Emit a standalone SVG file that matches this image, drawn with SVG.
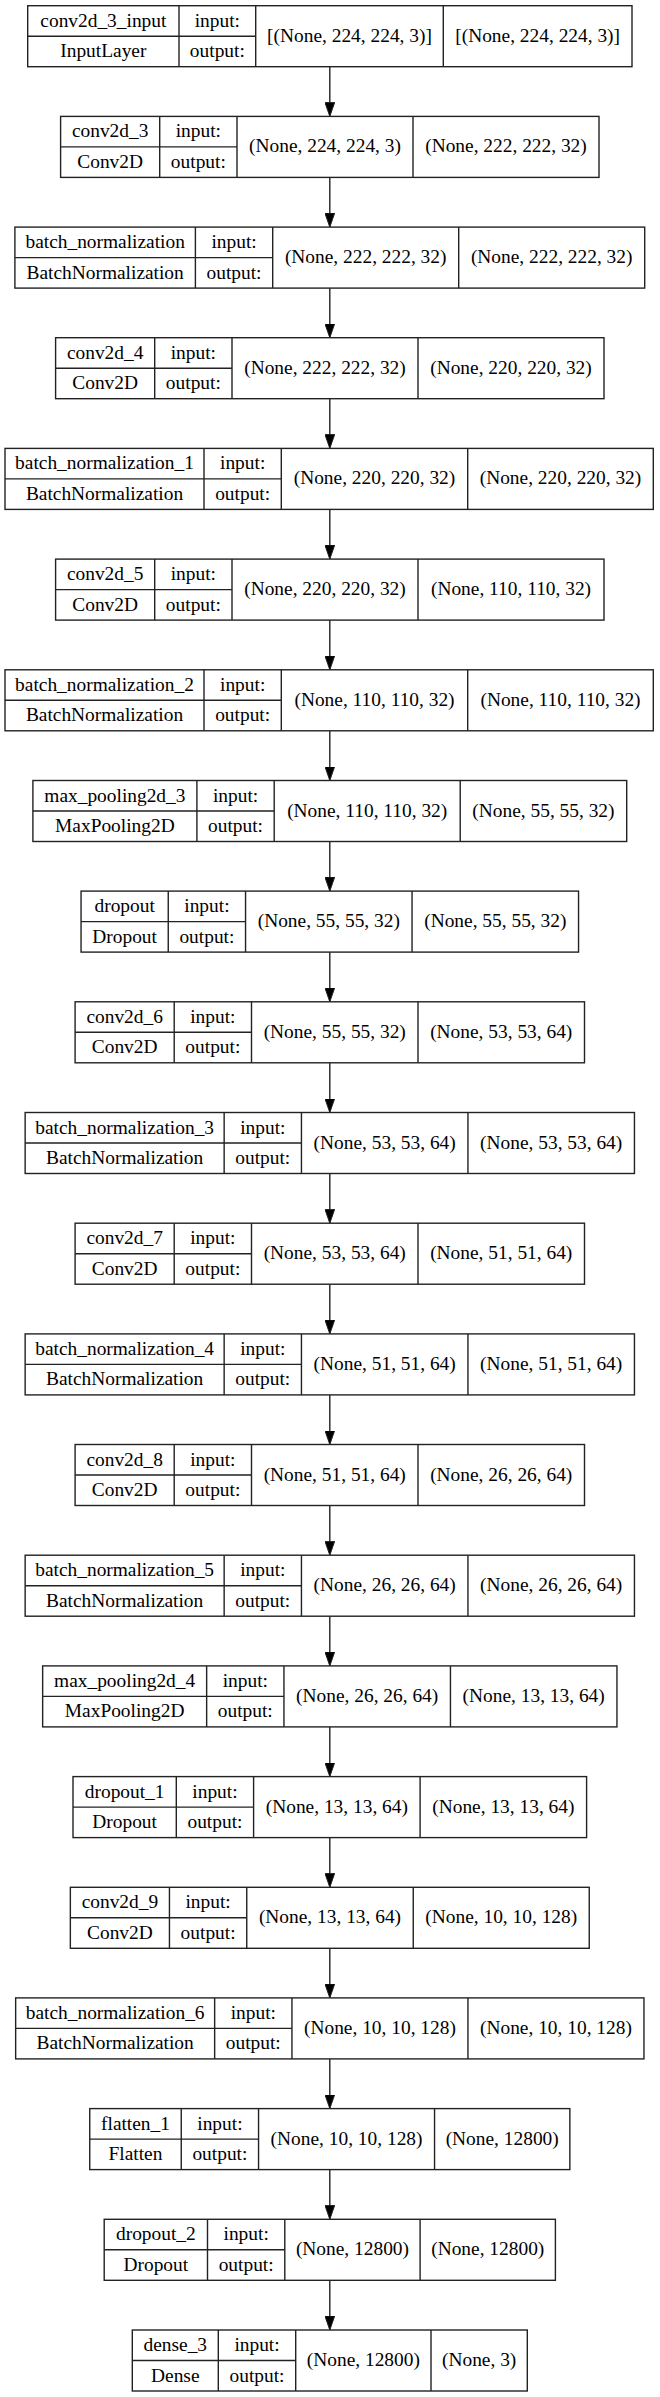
<svg xmlns="http://www.w3.org/2000/svg" width="660" height="2397" viewBox="0 0 660 2397">
<defs>
<style>
.b{fill:#fff;stroke:#222;stroke-width:1.4}
.l{fill:none;stroke:#222;stroke-width:1.4}
.e{fill:none;stroke:#222;stroke-width:1.4}
text{font-family:"Liberation Serif","Times New Roman",serif;font-size:19.4px;text-anchor:middle;fill:#000}
</style>
<marker id="ah" markerUnits="userSpaceOnUse" markerWidth="14" markerHeight="10" refX="14" refY="5" orient="auto">
<path d="M0,0.1 L14,5 L0,9.9 z" fill="#000" stroke="#222" stroke-width="1"/>
</marker>
</defs>
<rect width="660" height="2397" fill="#fff"/>
<g id="edges">
<line class="e" x1="329.8" y1="66.7" x2="329.8" y2="116.4" marker-end="url(#ah)"/>
<line class="e" x1="329.8" y1="177.4" x2="329.8" y2="227.1" marker-end="url(#ah)"/>
<line class="e" x1="329.8" y1="288.1" x2="329.8" y2="337.7" marker-end="url(#ah)"/>
<line class="e" x1="329.8" y1="398.7" x2="329.8" y2="448.4" marker-end="url(#ah)"/>
<line class="e" x1="329.8" y1="509.4" x2="329.8" y2="559.1" marker-end="url(#ah)"/>
<line class="e" x1="329.8" y1="620.1" x2="329.8" y2="669.8" marker-end="url(#ah)"/>
<line class="e" x1="329.8" y1="730.8" x2="329.8" y2="780.5" marker-end="url(#ah)"/>
<line class="e" x1="329.8" y1="841.5" x2="329.8" y2="891.1" marker-end="url(#ah)"/>
<line class="e" x1="329.8" y1="952.1" x2="329.8" y2="1001.8" marker-end="url(#ah)"/>
<line class="e" x1="329.8" y1="1062.8" x2="329.8" y2="1112.5" marker-end="url(#ah)"/>
<line class="e" x1="329.8" y1="1173.5" x2="329.8" y2="1223.2" marker-end="url(#ah)"/>
<line class="e" x1="329.8" y1="1284.2" x2="329.8" y2="1333.9" marker-end="url(#ah)"/>
<line class="e" x1="329.8" y1="1394.9" x2="329.8" y2="1444.5" marker-end="url(#ah)"/>
<line class="e" x1="329.8" y1="1505.5" x2="329.8" y2="1555.2" marker-end="url(#ah)"/>
<line class="e" x1="329.8" y1="1616.2" x2="329.8" y2="1665.9" marker-end="url(#ah)"/>
<line class="e" x1="329.8" y1="1726.9" x2="329.8" y2="1776.6" marker-end="url(#ah)"/>
<line class="e" x1="329.8" y1="1837.6" x2="329.8" y2="1887.3" marker-end="url(#ah)"/>
<line class="e" x1="329.8" y1="1948.3" x2="329.8" y2="1997.9" marker-end="url(#ah)"/>
<line class="e" x1="329.8" y1="2058.9" x2="329.8" y2="2108.6" marker-end="url(#ah)"/>
<line class="e" x1="329.8" y1="2169.6" x2="329.8" y2="2219.3" marker-end="url(#ah)"/>
<line class="e" x1="329.8" y1="2280.3" x2="329.8" y2="2330" marker-end="url(#ah)"/>
</g>

<g id="conv2d_3_input" transform="translate(0,5.7)">
<rect class="b" x="27.7" y="0" width="604.3" height="61"/>
<path class="l" d="M27.7,30.5H255.7M179,0V61M255.7,0V61M443.3,0V61"/>
<text x="103.35" y="21">conv2d_3_input</text><text x="103.35" y="51.5">InputLayer</text>
<text x="217.35" y="21">input:</text><text x="217.35" y="51.5">output:</text>
<text x="349.5" y="36">[(None, 224, 224, 3)]</text><text x="537.65" y="36">[(None, 224, 224, 3)]</text>
</g>

<g id="conv2d_3" transform="translate(0,116.4)">
<rect class="b" x="60.6" y="0" width="538.4" height="61"/>
<path class="l" d="M60.6,30.5H237M159.7,0V61M237,0V61M413,0V61"/>
<text x="110.15" y="21">conv2d_3</text><text x="110.15" y="51.5">Conv2D</text>
<text x="198.35" y="21">input:</text><text x="198.35" y="51.5">output:</text>
<text x="325" y="36">(None, 224, 224, 3)</text><text x="506" y="36">(None, 222, 222, 32)</text>
</g>

<g id="batch_normalization" transform="translate(0,227.1)">
<rect class="b" x="14.9" y="0" width="629.8" height="61"/>
<path class="l" d="M14.9,30.5H272.7M195.4,0V61M272.7,0V61M458.7,0V61"/>
<text x="105.15" y="21">batch_normalization</text><text x="105.15" y="51.5">BatchNormalization</text>
<text x="234.05" y="21">input:</text><text x="234.05" y="51.5">output:</text>
<text x="365.7" y="36">(None, 222, 222, 32)</text><text x="551.7" y="36">(None, 222, 222, 32)</text>
</g>

<g id="conv2d_4" transform="translate(0,337.7)">
<rect class="b" x="55.6" y="0" width="548.4" height="61"/>
<path class="l" d="M55.6,30.5H232M154.7,0V61M232,0V61M418,0V61"/>
<text x="105.15" y="21">conv2d_4</text><text x="105.15" y="51.5">Conv2D</text>
<text x="193.35" y="21">input:</text><text x="193.35" y="51.5">output:</text>
<text x="325" y="36">(None, 222, 222, 32)</text><text x="511" y="36">(None, 220, 220, 32)</text>
</g>

<g id="batch_normalization_1" transform="translate(0,448.4)">
<rect class="b" x="5" y="0" width="648.3" height="61"/>
<path class="l" d="M5,30.5H281.3M204,0V61M281.3,0V61M467.7,0V61"/>
<text x="104.5" y="21">batch_normalization_1</text><text x="104.5" y="51.5">BatchNormalization</text>
<text x="242.65" y="21">input:</text><text x="242.65" y="51.5">output:</text>
<text x="374.5" y="36">(None, 220, 220, 32)</text><text x="560.5" y="36">(None, 220, 220, 32)</text>
</g>

<g id="conv2d_5" transform="translate(0,559.1)">
<rect class="b" x="55.6" y="0" width="548.4" height="61"/>
<path class="l" d="M55.6,30.5H232M154.7,0V61M232,0V61M418,0V61"/>
<text x="105.15" y="21">conv2d_5</text><text x="105.15" y="51.5">Conv2D</text>
<text x="193.35" y="21">input:</text><text x="193.35" y="51.5">output:</text>
<text x="325" y="36">(None, 220, 220, 32)</text><text x="511" y="36">(None, 110, 110, 32)</text>
</g>

<g id="batch_normalization_2" transform="translate(0,669.8)">
<rect class="b" x="5" y="0" width="648.3" height="61"/>
<path class="l" d="M5,30.5H281.3M204,0V61M281.3,0V61M467.7,0V61"/>
<text x="104.5" y="21">batch_normalization_2</text><text x="104.5" y="51.5">BatchNormalization</text>
<text x="242.65" y="21">input:</text><text x="242.65" y="51.5">output:</text>
<text x="374.5" y="36">(None, 110, 110, 32)</text><text x="560.5" y="36">(None, 110, 110, 32)</text>
</g>

<g id="max_pooling2d_3" transform="translate(0,780.5)">
<rect class="b" x="32.9" y="0" width="593.8" height="61"/>
<path class="l" d="M32.9,30.5H274.2M196.9,0V61M274.2,0V61M460.2,0V61"/>
<text x="114.9" y="21">max_pooling2d_3</text><text x="114.9" y="51.5">MaxPooling2D</text>
<text x="235.55" y="21">input:</text><text x="235.55" y="51.5">output:</text>
<text x="367.2" y="36">(None, 110, 110, 32)</text><text x="543.45" y="36">(None, 55, 55, 32)</text>
</g>

<g id="dropout" transform="translate(0,891.1)">
<rect class="b" x="81.05" y="0" width="497.5" height="61"/>
<path class="l" d="M81.05,30.5H245.55M168.25,0V61M245.55,0V61M412.05,0V61"/>
<text x="124.65" y="21">dropout</text><text x="124.65" y="51.5">Dropout</text>
<text x="206.9" y="21">input:</text><text x="206.9" y="51.5">output:</text>
<text x="328.8" y="36">(None, 55, 55, 32)</text><text x="495.3" y="36">(None, 55, 55, 32)</text>
</g>

<g id="conv2d_6" transform="translate(0,1001.8)">
<rect class="b" x="75.1" y="0" width="509.4" height="61"/>
<path class="l" d="M75.1,30.5H251.5M174.2,0V61M251.5,0V61M418,0V61"/>
<text x="124.65" y="21">conv2d_6</text><text x="124.65" y="51.5">Conv2D</text>
<text x="212.85" y="21">input:</text><text x="212.85" y="51.5">output:</text>
<text x="334.75" y="36">(None, 55, 55, 32)</text><text x="501.25" y="36">(None, 53, 53, 64)</text>
</g>

<g id="batch_normalization_3" transform="translate(0,1112.5)">
<rect class="b" x="25.15" y="0" width="609.3" height="61"/>
<path class="l" d="M25.15,30.5H301.45M224.15,0V61M301.45,0V61M467.95,0V61"/>
<text x="124.65" y="21">batch_normalization_3</text><text x="124.65" y="51.5">BatchNormalization</text>
<text x="262.8" y="21">input:</text><text x="262.8" y="51.5">output:</text>
<text x="384.7" y="36">(None, 53, 53, 64)</text><text x="551.2" y="36">(None, 53, 53, 64)</text>
</g>

<g id="conv2d_7" transform="translate(0,1223.2)">
<rect class="b" x="75.1" y="0" width="509.4" height="61"/>
<path class="l" d="M75.1,30.5H251.5M174.2,0V61M251.5,0V61M418,0V61"/>
<text x="124.65" y="21">conv2d_7</text><text x="124.65" y="51.5">Conv2D</text>
<text x="212.85" y="21">input:</text><text x="212.85" y="51.5">output:</text>
<text x="334.75" y="36">(None, 53, 53, 64)</text><text x="501.25" y="36">(None, 51, 51, 64)</text>
</g>

<g id="batch_normalization_4" transform="translate(0,1333.9)">
<rect class="b" x="25.15" y="0" width="609.3" height="61"/>
<path class="l" d="M25.15,30.5H301.45M224.15,0V61M301.45,0V61M467.95,0V61"/>
<text x="124.65" y="21">batch_normalization_4</text><text x="124.65" y="51.5">BatchNormalization</text>
<text x="262.8" y="21">input:</text><text x="262.8" y="51.5">output:</text>
<text x="384.7" y="36">(None, 51, 51, 64)</text><text x="551.2" y="36">(None, 51, 51, 64)</text>
</g>

<g id="conv2d_8" transform="translate(0,1444.5)">
<rect class="b" x="75.1" y="0" width="509.4" height="61"/>
<path class="l" d="M75.1,30.5H251.5M174.2,0V61M251.5,0V61M418,0V61"/>
<text x="124.65" y="21">conv2d_8</text><text x="124.65" y="51.5">Conv2D</text>
<text x="212.85" y="21">input:</text><text x="212.85" y="51.5">output:</text>
<text x="334.75" y="36">(None, 51, 51, 64)</text><text x="501.25" y="36">(None, 26, 26, 64)</text>
</g>

<g id="batch_normalization_5" transform="translate(0,1555.2)">
<rect class="b" x="25.15" y="0" width="609.3" height="61"/>
<path class="l" d="M25.15,30.5H301.45M224.15,0V61M301.45,0V61M467.95,0V61"/>
<text x="124.65" y="21">batch_normalization_5</text><text x="124.65" y="51.5">BatchNormalization</text>
<text x="262.8" y="21">input:</text><text x="262.8" y="51.5">output:</text>
<text x="384.7" y="36">(None, 26, 26, 64)</text><text x="551.2" y="36">(None, 26, 26, 64)</text>
</g>

<g id="max_pooling2d_4" transform="translate(0,1665.9)">
<rect class="b" x="42.65" y="0" width="574.3" height="61"/>
<path class="l" d="M42.65,30.5H283.95M206.65,0V61M283.95,0V61M450.45,0V61"/>
<text x="124.65" y="21">max_pooling2d_4</text><text x="124.65" y="51.5">MaxPooling2D</text>
<text x="245.3" y="21">input:</text><text x="245.3" y="51.5">output:</text>
<text x="367.2" y="36">(None, 26, 26, 64)</text><text x="533.7" y="36">(None, 13, 13, 64)</text>
</g>

<g id="dropout_1" transform="translate(0,1776.6)">
<rect class="b" x="73" y="0" width="513.6" height="61"/>
<path class="l" d="M73,30.5H253.6M176.3,0V61M253.6,0V61M420.1,0V61"/>
<text x="124.65" y="21">dropout_1</text><text x="124.65" y="51.5">Dropout</text>
<text x="214.95" y="21">input:</text><text x="214.95" y="51.5">output:</text>
<text x="336.85" y="36">(None, 13, 13, 64)</text><text x="503.35" y="36">(None, 13, 13, 64)</text>
</g>

<g id="conv2d_9" transform="translate(0,1887.3)">
<rect class="b" x="70.35" y="0" width="518.9" height="61"/>
<path class="l" d="M70.35,30.5H246.75M169.45,0V61M246.75,0V61M413.25,0V61"/>
<text x="119.9" y="21">conv2d_9</text><text x="119.9" y="51.5">Conv2D</text>
<text x="208.1" y="21">input:</text><text x="208.1" y="51.5">output:</text>
<text x="330" y="36">(None, 13, 13, 64)</text><text x="501.25" y="36">(None, 10, 10, 128)</text>
</g>

<g id="batch_normalization_6" transform="translate(0,1997.9)">
<rect class="b" x="15.65" y="0" width="628.3" height="61"/>
<path class="l" d="M15.65,30.5H291.95M214.65,0V61M291.95,0V61M467.95,0V61"/>
<text x="115.15" y="21">batch_normalization_6</text><text x="115.15" y="51.5">BatchNormalization</text>
<text x="253.3" y="21">input:</text><text x="253.3" y="51.5">output:</text>
<text x="379.95" y="36">(None, 10, 10, 128)</text><text x="555.95" y="36">(None, 10, 10, 128)</text>
</g>

<g id="flatten_1" transform="translate(0,2108.6)">
<rect class="b" x="89.75" y="0" width="480.1" height="61"/>
<path class="l" d="M89.75,30.5H258.55M181.25,0V61M258.55,0V61M434.55,0V61"/>
<text x="135.5" y="21">flatten_1</text><text x="135.5" y="51.5">Flatten</text>
<text x="219.9" y="21">input:</text><text x="219.9" y="51.5">output:</text>
<text x="346.55" y="36">(None, 10, 10, 128)</text><text x="502.2" y="36">(None, 12800)</text>
</g>

<g id="dropout_2" transform="translate(0,2219.3)">
<rect class="b" x="104.2" y="0" width="451.2" height="61"/>
<path class="l" d="M104.2,30.5H284.8M207.5,0V61M284.8,0V61M420.1,0V61"/>
<text x="155.85" y="21">dropout_2</text><text x="155.85" y="51.5">Dropout</text>
<text x="246.15" y="21">input:</text><text x="246.15" y="51.5">output:</text>
<text x="352.45" y="36">(None, 12800)</text><text x="487.75" y="36">(None, 12800)</text>
</g>

<g id="dense_3" transform="translate(0,2330)">
<rect class="b" x="132.3" y="0" width="395" height="61"/>
<path class="l" d="M132.3,30.5H295.7M218.3,0V61M295.7,0V61M431,0V61"/>
<text x="175.3" y="21">dense_3</text><text x="175.3" y="51.5">Dense</text>
<text x="257" y="21">input:</text><text x="257" y="51.5">output:</text>
<text x="363.35" y="36">(None, 12800)</text><text x="479.15" y="36">(None, 3)</text>
</g>
</svg>
